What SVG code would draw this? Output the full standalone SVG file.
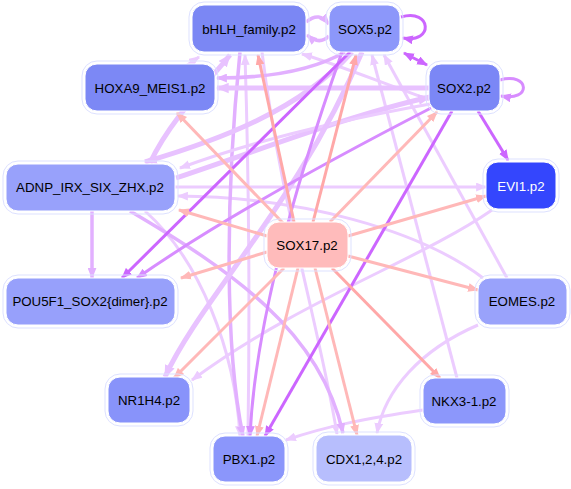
<svg xmlns="http://www.w3.org/2000/svg" width="571" height="489" viewBox="0 0 571 489">
<style>
.n rect.i{stroke:#ffffff;stroke-width:1}
.n rect.o{fill:none;stroke:#dde1ff;stroke-width:1}
.n text{font-family:"Liberation Sans",Arial,sans-serif;font-size:13.3px;text-anchor:middle;dominant-baseline:central;fill:#000}
.e path{fill:none;stroke-linecap:butt}
.p{stroke:#ffb8b8;stroke-width:3;marker-end:url(#mP)}
.pd{stroke:#ffa8a8;stroke-width:3;marker-end:url(#mPd)}
.l{stroke:#ecccff;stroke-width:3;marker-end:url(#mL)}
.lt{stroke:#e8c2ff;stroke-width:5;marker-end:url(#mL2)}
.m{stroke:#e2b0ff;stroke-width:3.5;marker-end:url(#mM)}
.v{stroke:#cc66ff;stroke-width:3;marker-end:url(#mV)}
.v2{stroke:#d78cff;stroke-width:3;marker-end:url(#mV2)}
</style>
<defs>
<marker id="mP" viewBox="0 0 10 8" refX="9" refY="4" markerWidth="11" markerHeight="9" markerUnits="userSpaceOnUse" orient="auto-start-reverse"><polygon points="0,0 10,4 0,8" fill="#ffb8b8"/></marker>
<marker id="mPd" viewBox="0 0 10 8" refX="9" refY="4" markerWidth="11" markerHeight="9" markerUnits="userSpaceOnUse" orient="auto-start-reverse"><polygon points="0,0 10,4 0,8" fill="#ffa8a8"/></marker>
<marker id="mL" viewBox="0 0 10 8" refX="9" refY="4" markerWidth="11" markerHeight="9" markerUnits="userSpaceOnUse" orient="auto-start-reverse"><polygon points="0,0 10,4 0,8" fill="#ecccff"/></marker>
<marker id="mL2" viewBox="0 0 10 8" refX="9" refY="4" markerWidth="13" markerHeight="11" markerUnits="userSpaceOnUse" orient="auto-start-reverse"><polygon points="0,0 10,4 0,8" fill="#e8c2ff"/></marker>
<marker id="mM" viewBox="0 0 10 8" refX="9" refY="4" markerWidth="11" markerHeight="9" markerUnits="userSpaceOnUse" orient="auto-start-reverse"><polygon points="0,0 10,4 0,8" fill="#e2b0ff"/></marker>
<marker id="mV" viewBox="0 0 10 8" refX="9" refY="4" markerWidth="11" markerHeight="9" markerUnits="userSpaceOnUse" orient="auto-start-reverse"><polygon points="0,0 10,4 0,8" fill="#cc66ff"/></marker>
<marker id="mV2" viewBox="0 0 10 8" refX="9" refY="4" markerWidth="11" markerHeight="9" markerUnits="userSpaceOnUse" orient="auto-start-reverse"><polygon points="0,0 10,4 0,8" fill="#d78cff"/></marker>
</defs>
<rect width="571" height="489" fill="#ffffff"/>
<g id="edges" class="e">
<!-- lavender background edges -->
<path class="l" d="M175,187 L486,187"/>
<path class="l" d="M483,278 C420,230 300,197 178,196"/>
<path class="l" d="M457,378 L372,55"/>
<path class="l" d="M507,278 L384,55"/>
<path class="l" d="M478,325 C420,350 385,390 377,433"/>
<path class="l" d="M423,410 C370,418 330,425 286,440"/>
<path class="l" d="M492,210 C420,260 300,300 192,380"/>
<path class="l" d="M262,52 C280,200 320,330 337,434"/>
<path class="l" d="M145,211 C200,260 235,350 240,436"/>
<path class="l" d="M430,100 C380,82 330,62 302,54"/>
<path class="l" d="M248,436 C250,300 248,150 245,55"/>
<path class="l" d="M186,66 L199,57"/>
<path class="m" d="M92,210 L92,278"/>
<path class="m" d="M130,211 C230,270 320,330 343,433"/>
<path class="m" d="M240,52 C225,200 225,350 243,436"/>
<path class="m" d="M306,22 C316,14 322,16 329,24"/>
<path class="m" d="M329,36 C322,43 314,41 307,35"/>
<path class="m" d="M345,52 C310,72 260,78 217,78"/>
<path class="lt" d="M429,88 L217,88"/>
<path class="lt" d="M352,52 C300,110 220,140 145,162"/>
<path class="lt" d="M176,178 C260,150 350,115 430,97"/>
<path class="l" d="M430,104 C330,122 250,142 180,168"/>
<path class="lt" d="M150,163 C170,120 210,80 230,55"/>
<path class="lt" d="M362,52 C300,200 200,300 165,377"/>
<path class="v2" d="M431,108 C330,160 220,220 137,278"/>
<path class="v2" d="M342,52 C290,200 255,330 250,436"/>
<!-- strong purple -->
<path class="v" d="M350,52 L122,278"/>
<path class="v" d="M452,111 L265,436"/>
<path class="v" d="M478,111 L508,160"/>
<path class="v" d="M404,53 L427,65" style="marker-start:url(#mV)"/>
<path class="v" d="M401,17 C432,8 434,44 403,38"/>
<path class="v2" d="M500,80 C530,72 532,102 501,96"/>
<!-- SOX17 pink -->
<path class="pd" d="M294,222 L258,55"/>
<path class="pd" d="M313,222 L356,55"/>
<path class="p" d="M283,223 L177,113"/>
<path class="p" d="M267,236 L179,210"/>
<path class="p" d="M267,252 L181,278"/>
<path class="p" d="M284,268 L174,378"/>
<path class="p" d="M298,268 L257,436"/>
<path class="p" d="M315,268 L357,435"/>
<path class="pd" d="M332,268 L440,378"/>
<path class="p" d="M348,256 L478,290"/>
<path class="p" d="M348,236 L486,196"/>
<path class="p" d="M330,222 L437,112"/>
</g>
<g id="n_bHLH" class="n"><rect class="o" x="189" y="2" width="120" height="53" rx="15"/><rect class="i" x="192" y="5" width="114" height="47" rx="12" fill="#7b87f4"/><text x="249" y="29">bHLH_family.p2</text></g>
<g id="n_SOX5" class="n"><rect class="o" x="326" y="2" width="77" height="53" rx="15"/><rect class="i" x="329" y="5" width="71" height="47" rx="12" fill="#8c97fa"/><text x="365" y="29">SOX5.p2</text></g>
<g id="n_HOXA9" class="n"><rect class="o" x="82" y="61" width="136" height="53" rx="15"/><rect class="i" x="85" y="64" width="130" height="47" rx="12" fill="#7c88f5"/><text x="150" y="88">HOXA9_MEIS1.p2</text></g>
<g id="n_SOX2" class="n"><rect class="o" x="426" y="61" width="77" height="53" rx="15"/><rect class="i" x="429" y="64" width="71" height="47" rx="12" fill="#7b87f6"/><text x="464" y="88">SOX2.p2</text></g>
<g id="n_ADNP" class="n"><rect class="o" x="3" y="161" width="175" height="53" rx="15"/><rect class="i" x="6" y="164" width="169" height="47" rx="12" fill="#98a1fb"/><text x="90" y="187">ADNP_IRX_SIX_ZHX.p2</text></g>
<g id="n_EVI1" class="n"><rect class="o" x="483" y="159" width="76" height="53" rx="15"/><rect class="i" x="486" y="162" width="70" height="47" rx="12" fill="#3446fd"/><text x="521" y="186" style="fill:#ffffff">EVI1.p2</text></g>
<g id="n_SOX17" class="n"><rect class="o" x="264" y="219" width="87" height="52" rx="15"/><rect class="i" x="267" y="222" width="81" height="46" rx="12" fill="#ffbbbb"/><text x="307" y="245">SOX17.p2</text></g>
<g id="n_POU5F1" class="n"><rect class="o" x="3" y="275" width="175" height="53" rx="15"/><rect class="i" x="6" y="278" width="169" height="47" rx="12" fill="#97a0fb"/><text x="90" y="301">POU5F1_SOX2{dimer}.p2</text></g>
<g id="n_EOMES" class="n"><rect class="o" x="475" y="275" width="95" height="53" rx="15"/><rect class="i" x="478" y="278" width="89" height="47" rx="12" fill="#99a2fb"/><text x="522" y="301">EOMES.p2</text></g>
<g id="n_NR1H4" class="n"><rect class="o" x="105" y="374" width="88" height="52" rx="15"/><rect class="i" x="108" y="377" width="82" height="46" rx="12" fill="#8893fa"/><text x="149" y="400">NR1H4.p2</text></g>
<g id="n_NKX3" class="n"><rect class="o" x="420" y="375" width="89" height="52" rx="15"/><rect class="i" x="423" y="378" width="83" height="46" rx="12" fill="#8c97fb"/><text x="464" y="401">NKX3-1.p2</text></g>
<g id="n_PBX1" class="n"><rect class="o" x="210" y="433" width="78" height="52" rx="15"/><rect class="i" x="213" y="436" width="72" height="46" rx="12" fill="#8b96fb"/><text x="249" y="459">PBX1.p2</text></g>
<g id="n_CDX" class="n"><rect class="o" x="313" y="432" width="102" height="53" rx="15"/><rect class="i" x="316" y="435" width="96" height="47" rx="12" fill="#b7befd"/><text x="364" y="459">CDX1,2,4.p2</text></g>
</svg>
